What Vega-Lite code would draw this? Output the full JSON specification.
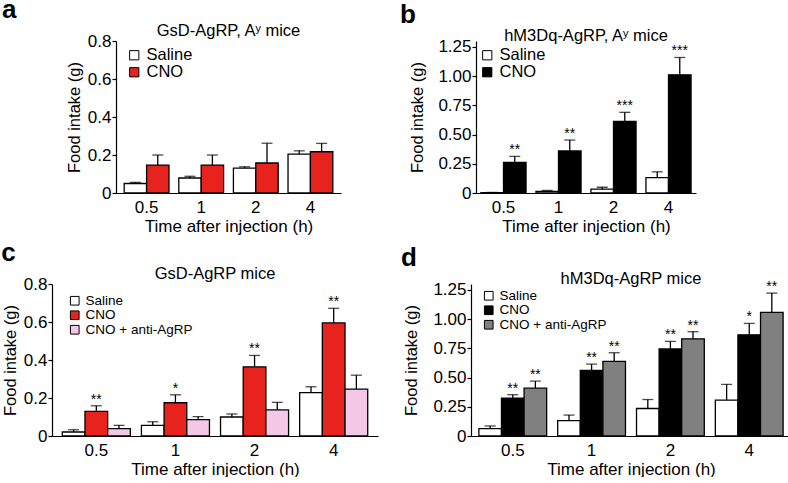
{
  "$schema": "https://vega.github.io/schema/vega-lite/v6.json",
  "padding": {"left": 1, "top": -4, "right": 0, "bottom": 0},
  "background": "white",
  "config": {
    "font": "Liberation Sans",
    "view": {"stroke": null},
    "axis": {"domainColor": "black", "tickColor": "black", "labelColor": "black", "titleColor": "black", "titleFontWeight": "normal", "grid": false, "domainWidth": 1.2, "tickWidth": 1.2, "labelOverlap": false},
    "title": {"fontWeight": "normal", "color": "black"},
    "legend": {"symbolType": "square", "symbolStrokeColor": "black", "symbolStrokeWidth": 1, "labelColor": "black", "symbolOpacity": 1, "padding": 0}
  },
  "datasets": {
    "food": [
      {"p": "a", "t": "0.5", "g": "Saline", "m": 0.05, "hi": 0.056, "s": ""},
      {"p": "a", "t": "0.5", "g": "CNO", "m": 0.147, "hi": 0.2, "s": ""},
      {"p": "a", "t": "1", "g": "Saline", "m": 0.079, "hi": 0.088, "s": ""},
      {"p": "a", "t": "1", "g": "CNO", "m": 0.147, "hi": 0.2, "s": ""},
      {"p": "a", "t": "2", "g": "Saline", "m": 0.131, "hi": 0.138, "s": ""},
      {"p": "a", "t": "2", "g": "CNO", "m": 0.158, "hi": 0.262, "s": ""},
      {"p": "a", "t": "4", "g": "Saline", "m": 0.205, "hi": 0.222, "s": ""},
      {"p": "a", "t": "4", "g": "CNO", "m": 0.217, "hi": 0.261, "s": ""},
      {"p": "b", "t": "0.5", "g": "Saline", "m": 0.003, "hi": 0.005, "s": ""},
      {"p": "b", "t": "0.5", "g": "CNO", "m": 0.261, "hi": 0.313, "s": "**"},
      {"p": "b", "t": "1", "g": "Saline", "m": 0.014, "hi": 0.022, "s": ""},
      {"p": "b", "t": "1", "g": "CNO", "m": 0.36, "hi": 0.453, "s": "**"},
      {"p": "b", "t": "2", "g": "Saline", "m": 0.033, "hi": 0.049, "s": ""},
      {"p": "b", "t": "2", "g": "CNO", "m": 0.613, "hi": 0.69, "s": "***"},
      {"p": "b", "t": "4", "g": "Saline", "m": 0.132, "hi": 0.181, "s": ""},
      {"p": "b", "t": "4", "g": "CNO", "m": 1.011, "hi": 1.159, "s": "***"},
      {"p": "c", "t": "0.5", "g": "Saline", "m": 0.021, "hi": 0.033, "s": ""},
      {"p": "c", "t": "0.5", "g": "CNO", "m": 0.13, "hi": 0.159, "s": "**"},
      {"p": "c", "t": "0.5", "g": "CNO + anti-AgRP", "m": 0.039, "hi": 0.056, "s": ""},
      {"p": "c", "t": "1", "g": "Saline", "m": 0.056, "hi": 0.075, "s": ""},
      {"p": "c", "t": "1", "g": "CNO", "m": 0.175, "hi": 0.217, "s": "*"},
      {"p": "c", "t": "1", "g": "CNO + anti-AgRP", "m": 0.086, "hi": 0.102, "s": ""},
      {"p": "c", "t": "2", "g": "Saline", "m": 0.1, "hi": 0.116, "s": ""},
      {"p": "c", "t": "2", "g": "CNO", "m": 0.364, "hi": 0.424, "s": "**"},
      {"p": "c", "t": "2", "g": "CNO + anti-AgRP", "m": 0.137, "hi": 0.177, "s": ""},
      {"p": "c", "t": "4", "g": "Saline", "m": 0.228, "hi": 0.259, "s": ""},
      {"p": "c", "t": "4", "g": "CNO", "m": 0.595, "hi": 0.672, "s": "**"},
      {"p": "c", "t": "4", "g": "CNO + anti-AgRP", "m": 0.247, "hi": 0.32, "s": ""},
      {"p": "d", "t": "0.5", "g": "Saline", "m": 0.063, "hi": 0.086, "s": ""},
      {"p": "d", "t": "0.5", "g": "CNO", "m": 0.323, "hi": 0.353, "s": "**"},
      {"p": "d", "t": "0.5", "g": "CNO + anti-AgRP", "m": 0.409, "hi": 0.469, "s": "**"},
      {"p": "d", "t": "1", "g": "Saline", "m": 0.132, "hi": 0.179, "s": ""},
      {"p": "d", "t": "1", "g": "CNO", "m": 0.56, "hi": 0.615, "s": "**"},
      {"p": "d", "t": "1", "g": "CNO + anti-AgRP", "m": 0.638, "hi": 0.712, "s": "**"},
      {"p": "d", "t": "2", "g": "Saline", "m": 0.235, "hi": 0.312, "s": ""},
      {"p": "d", "t": "2", "g": "CNO", "m": 0.745, "hi": 0.809, "s": "**"},
      {"p": "d", "t": "2", "g": "CNO + anti-AgRP", "m": 0.831, "hi": 0.892, "s": "**"},
      {"p": "d", "t": "4", "g": "Saline", "m": 0.306, "hi": 0.442, "s": ""},
      {"p": "d", "t": "4", "g": "CNO", "m": 0.865, "hi": 0.963, "s": "*"},
      {"p": "d", "t": "4", "g": "CNO + anti-AgRP", "m": 1.058, "hi": 1.222, "s": "**"}
    ]
  },
  "data": {"name": "food"},
  "resolve": {"scale": {"x": "independent", "y": "independent", "xOffset": "independent", "fill": "independent"}, "legend": {"fill": "independent"}, "axis": {"x": "independent", "y": "independent"}},
  "spacing": 5,
  "vconcat": [
    {
      "hconcat": [
        {
          "title": {"text": "a", "anchor": "start", "frame": "bounds", "fontSize": 26, "fontWeight": "bold", "dx": -50, "offset": 0},
          "resolve": {"scale": {"fill": "independent"}, "legend": {"fill": "independent"}},
          "vconcat": [
            {
              "width": 289, "height": 152,
              "title": {"text": "GsD-AgRP, Aʸ mice", "fontSize": 16.5, "offset": -7, "dx": 32},
              "transform": [{"filter": "datum.p == 'a'"}],
              "encoding": {
                "x": {"field": "t", "type": "ordinal", "sort": ["0.5", "1", "2", "4"], "scale": {"range": [64, 289], "paddingInner": 0.18, "paddingOuter": 0.15}, "title": "Time after injection (h)", "axis": {"ticks": false, "labelAngle": 0, "labelFontSize": 17, "titleFontSize": 17, "labelPadding": 6, "titlePadding": 3}},
                "xOffset": {"field": "g", "type": "nominal", "sort": ["Saline", "CNO"], "scale": {"paddingInner": 0, "paddingOuter": 0}}
              },
              "layer": [
                {"mark": {"type": "bar", "stroke": "black", "strokeWidth": 1.3},
                 "encoding": {
                   "y": {"field": "m", "type": "quantitative", "scale": {"domain": [0, 0.8]}, "title": "Food intake (g)", "axis": {"offset": -64, "values": [0, 0.2, 0.4, 0.6, 0.8], "labelOverlap": false, "labelExpr": "datum.value == 0 ? '0' : format(datum.value, '.1f')", "tickSize": 4, "labelPadding": 1, "labelFontSize": 17, "titleFontSize": 16.5, "titlePadding": 5}},
                   "fill": {"field": "g", "type": "nominal", "scale": {"domain": ["Saline", "CNO"], "range": ["white", "#e8231e"]}, "legend": {"title": null, "orient": "none", "legendX": 74, "legendY": 6, "labelFontSize": 16.5, "symbolSize": 85, "rowPadding": 0}}
                 }},
                {"mark": {"type": "rule", "strokeWidth": 1.3, "color": "black"}, "encoding": {"y": {"field": "m", "type": "quantitative", "title": "Food intake (g)", "axis": {"offset": -64, "values": [0, 0.2, 0.4, 0.6, 0.8], "labelOverlap": false, "labelExpr": "datum.value == 0 ? '0' : format(datum.value, '.1f')", "tickSize": 4, "labelPadding": 1, "labelFontSize": 17, "titleFontSize": 16.5, "titlePadding": 5}}, "y2": {"field": "hi"}}},
                {"mark": {"type": "tick", "size": 11, "thickness": 1.3, "color": "black"}, "encoding": {"y": {"field": "hi", "type": "quantitative", "title": "Food intake (g)", "axis": {"offset": -64, "values": [0, 0.2, 0.4, 0.6, 0.8], "labelOverlap": false, "labelExpr": "datum.value == 0 ? '0' : format(datum.value, '.1f')", "tickSize": 4, "labelPadding": 1, "labelFontSize": 17, "titleFontSize": 16.5, "titlePadding": 5}}}},
                {"mark": {"type": "text", "baseline": "alphabetic", "dy": -2, "fontSize": 14}, "encoding": {"y": {"field": "hi", "type": "quantitative", "title": "Food intake (g)", "axis": {"offset": -64, "values": [0, 0.2, 0.4, 0.6, 0.8], "labelOverlap": false, "labelExpr": "datum.value == 0 ? '0' : format(datum.value, '.1f')", "tickSize": 4, "labelPadding": 1, "labelFontSize": 17, "titleFontSize": 16.5, "titlePadding": 5}}, "text": {"field": "s"}}}
              ]
            }
          ]
        },
        {
          "title": {"text": "b", "anchor": "start", "frame": "bounds", "fontSize": 26, "fontWeight": "bold", "dx": -10, "offset": 0},
          "resolve": {"scale": {"fill": "independent"}, "legend": {"fill": "independent"}},
          "vconcat": [
            {
              "width": 220, "height": 152,
              "title": {"text": "hM3Dq-AgRP, Aʸ mice", "fontSize": 16.5, "offset": -7},
              "transform": [{"filter": "datum.p == 'b'"}],
              "encoding": {
                "x": {"field": "t", "type": "ordinal", "sort": ["0.5", "1", "2", "4"], "scale": {"paddingInner": 0.18, "paddingOuter": 0.09}, "title": "Time after injection (h)", "axis": {"ticks": false, "labelAngle": 0, "labelFontSize": 17, "titleFontSize": 17, "labelPadding": 6, "titlePadding": 3}},
                "xOffset": {"field": "g", "type": "nominal", "sort": ["Saline", "CNO"], "scale": {"paddingInner": 0, "paddingOuter": 0}}
              },
              "layer": [
                {"mark": {"type": "bar", "stroke": "black", "strokeWidth": 1.3},
                 "encoding": {
                   "y": {"field": "m", "type": "quantitative", "scale": {"domain": [0, 1.25]}, "title": "Food intake (g)", "axis": {"values": [0, 0.25, 0.5, 0.75, 1, 1.25], "labelOverlap": false, "labelExpr": "datum.value == 0 ? '0' : format(datum.value, '.2f')", "tickSize": 4, "labelPadding": 1, "labelFontSize": 17, "titleFontSize": 16.5, "titlePadding": 12}},
                   "fill": {"field": "g", "type": "nominal", "scale": {"domain": ["Saline", "CNO"], "range": ["white", "black"]}, "legend": {"title": null, "orient": "none", "legendX": 3, "legendY": 6, "labelFontSize": 16.5, "symbolSize": 85, "rowPadding": 0}}
                 }},
                {"mark": {"type": "rule", "strokeWidth": 1.3, "color": "black"}, "encoding": {"y": {"field": "m", "type": "quantitative", "title": "Food intake (g)", "axis": {"values": [0, 0.25, 0.5, 0.75, 1, 1.25], "labelOverlap": false, "labelExpr": "datum.value == 0 ? '0' : format(datum.value, '.2f')", "tickSize": 4, "labelPadding": 1, "labelFontSize": 17, "titleFontSize": 16.5, "titlePadding": 12}}, "y2": {"field": "hi"}}},
                {"mark": {"type": "tick", "size": 11, "thickness": 1.3, "color": "black"}, "encoding": {"y": {"field": "hi", "type": "quantitative", "title": "Food intake (g)", "axis": {"values": [0, 0.25, 0.5, 0.75, 1, 1.25], "labelOverlap": false, "labelExpr": "datum.value == 0 ? '0' : format(datum.value, '.2f')", "tickSize": 4, "labelPadding": 1, "labelFontSize": 17, "titleFontSize": 16.5, "titlePadding": 12}}}},
                {"mark": {"type": "text", "baseline": "alphabetic", "dy": -2, "fontSize": 14}, "encoding": {"y": {"field": "hi", "type": "quantitative", "title": "Food intake (g)", "axis": {"values": [0, 0.25, 0.5, 0.75, 1, 1.25], "labelOverlap": false, "labelExpr": "datum.value == 0 ? '0' : format(datum.value, '.2f')", "tickSize": 4, "labelPadding": 1, "labelFontSize": 17, "titleFontSize": 16.5, "titlePadding": 12}}, "text": {"field": "s"}}}
              ]
            }
          ]
        }
      ],
      "spacing": 58,
      "resolve": {"scale": {"x": "independent", "y": "independent", "xOffset": "independent", "fill": "independent"}, "legend": {"fill": "independent"}}
    },
    {
      "hconcat": [
        {
          "title": {"text": "c", "anchor": "start", "frame": "bounds", "fontSize": 26, "fontWeight": "bold", "dx": -1, "offset": 0},
          "resolve": {"scale": {"fill": "independent"}, "legend": {"fill": "independent"}},
          "vconcat": [
            {
              "width": 326, "height": 152,
              "title": {"text": "GsD-AgRP mice", "fontSize": 16.5, "offset": -7},
              "transform": [{"filter": "datum.p == 'c'"}],
              "encoding": {
                "x": {"field": "t", "type": "ordinal", "sort": ["0.5", "1", "2", "4"], "scale": {"paddingInner": 0.14, "paddingOuter": 0.13}, "title": "Time after injection (h)", "axis": {"ticks": false, "labelAngle": 0, "labelFontSize": 17, "titleFontSize": 17, "labelPadding": 6, "titlePadding": 3}},
                "xOffset": {"field": "g", "type": "nominal", "sort": ["Saline", "CNO", "CNO + anti-AgRP"], "scale": {"paddingInner": 0, "paddingOuter": 0}}
              },
              "layer": [
                {"mark": {"type": "bar", "stroke": "black", "strokeWidth": 1.3},
                 "encoding": {
                   "y": {"field": "m", "type": "quantitative", "scale": {"domain": [0, 0.8]}, "title": "Food intake (g)", "axis": {"values": [0, 0.2, 0.4, 0.6, 0.8], "labelOverlap": false, "labelExpr": "datum.value == 0 ? '0' : format(datum.value, '.1f')", "tickSize": 4, "labelPadding": 1, "labelFontSize": 17, "titleFontSize": 16.5, "titlePadding": 5}},
                   "fill": {"field": "g", "type": "nominal", "scale": {"domain": ["Saline", "CNO", "CNO + anti-AgRP"], "range": ["white", "#e8231e", "#f2c8e6"]}, "legend": {"title": null, "orient": "none", "legendX": 16, "legendY": 10, "labelFontSize": 13.5, "symbolSize": 75, "rowPadding": -0.5}}
                 }},
                {"mark": {"type": "rule", "strokeWidth": 1.3, "color": "black"}, "encoding": {"y": {"field": "m", "type": "quantitative", "title": "Food intake (g)", "axis": {"values": [0, 0.2, 0.4, 0.6, 0.8], "labelOverlap": false, "labelExpr": "datum.value == 0 ? '0' : format(datum.value, '.1f')", "tickSize": 4, "labelPadding": 1, "labelFontSize": 17, "titleFontSize": 16.5, "titlePadding": 5}}, "y2": {"field": "hi"}}},
                {"mark": {"type": "tick", "size": 11, "thickness": 1.3, "color": "black"}, "encoding": {"y": {"field": "hi", "type": "quantitative", "title": "Food intake (g)", "axis": {"values": [0, 0.2, 0.4, 0.6, 0.8], "labelOverlap": false, "labelExpr": "datum.value == 0 ? '0' : format(datum.value, '.1f')", "tickSize": 4, "labelPadding": 1, "labelFontSize": 17, "titleFontSize": 16.5, "titlePadding": 5}}}},
                {"mark": {"type": "text", "baseline": "alphabetic", "dy": -2, "fontSize": 14}, "encoding": {"y": {"field": "hi", "type": "quantitative", "title": "Food intake (g)", "axis": {"values": [0, 0.2, 0.4, 0.6, 0.8], "labelOverlap": false, "labelExpr": "datum.value == 0 ? '0' : format(datum.value, '.1f')", "tickSize": 4, "labelPadding": 1, "labelFontSize": 17, "titleFontSize": 16.5, "titlePadding": 5}}, "text": {"field": "s"}}}
              ]
            }
          ]
        },
        {
          "title": {"text": "d", "anchor": "start", "frame": "bounds", "fontSize": 26, "fontWeight": "bold", "dx": -3, "offset": 0},
          "resolve": {"scale": {"fill": "independent"}, "legend": {"fill": "independent"}},
          "vconcat": [
            {
              "width": 320, "height": 152,
              "title": {"text": "hM3Dq-AgRP mice", "fontSize": 16.5, "offset": -7},
              "transform": [{"filter": "datum.p == 'd'"}],
              "encoding": {
                "x": {"field": "t", "type": "ordinal", "sort": ["0.5", "1", "2", "4"], "scale": {"paddingInner": 0.14, "paddingOuter": 0.1}, "title": "Time after injection (h)", "axis": {"ticks": false, "labelAngle": 0, "labelFontSize": 17, "titleFontSize": 17, "labelPadding": 6, "titlePadding": 3}},
                "xOffset": {"field": "g", "type": "nominal", "sort": ["Saline", "CNO", "CNO + anti-AgRP"], "scale": {"paddingInner": 0, "paddingOuter": 0}}
              },
              "layer": [
                {"mark": {"type": "bar", "stroke": "black", "strokeWidth": 1.3},
                 "encoding": {
                   "y": {"field": "m", "type": "quantitative", "scale": {"domain": [0, 1.25]}, "title": "Food intake (g)", "axis": {"values": [0, 0.25, 0.5, 0.75, 1, 1.25], "labelOverlap": false, "labelExpr": "datum.value == 0 ? '0' : format(datum.value, '.2f')", "tickSize": 4, "labelPadding": 1, "labelFontSize": 17, "titleFontSize": 16.5, "titlePadding": 13}},
                   "fill": {"field": "g", "type": "nominal", "scale": {"domain": ["Saline", "CNO", "CNO + anti-AgRP"], "range": ["white", "black", "#808080"]}, "legend": {"title": null, "orient": "none", "legendX": 11, "legendY": 5, "labelFontSize": 13.5, "symbolSize": 75, "rowPadding": -0.5}}
                 }},
                {"mark": {"type": "rule", "strokeWidth": 1.3, "color": "black"}, "encoding": {"y": {"field": "m", "type": "quantitative", "title": "Food intake (g)", "axis": {"values": [0, 0.25, 0.5, 0.75, 1, 1.25], "labelOverlap": false, "labelExpr": "datum.value == 0 ? '0' : format(datum.value, '.2f')", "tickSize": 4, "labelPadding": 1, "labelFontSize": 17, "titleFontSize": 16.5, "titlePadding": 13}}, "y2": {"field": "hi"}}},
                {"mark": {"type": "tick", "size": 11, "thickness": 1.3, "color": "black"}, "encoding": {"y": {"field": "hi", "type": "quantitative", "title": "Food intake (g)", "axis": {"values": [0, 0.25, 0.5, 0.75, 1, 1.25], "labelOverlap": false, "labelExpr": "datum.value == 0 ? '0' : format(datum.value, '.2f')", "tickSize": 4, "labelPadding": 1, "labelFontSize": 17, "titleFontSize": 16.5, "titlePadding": 13}}}},
                {"mark": {"type": "text", "baseline": "alphabetic", "dy": -2, "fontSize": 14}, "encoding": {"y": {"field": "hi", "type": "quantitative", "title": "Food intake (g)", "axis": {"values": [0, 0.25, 0.5, 0.75, 1, 1.25], "labelOverlap": false, "labelExpr": "datum.value == 0 ? '0' : format(datum.value, '.2f')", "tickSize": 4, "labelPadding": 1, "labelFontSize": 17, "titleFontSize": 16.5, "titlePadding": 13}}, "text": {"field": "s"}}}
              ]
            }
          ]
        }
      ],
      "spacing": 22,
      "resolve": {"scale": {"x": "independent", "y": "independent", "xOffset": "independent", "fill": "independent"}, "legend": {"fill": "independent"}}
    }
  ]
}
